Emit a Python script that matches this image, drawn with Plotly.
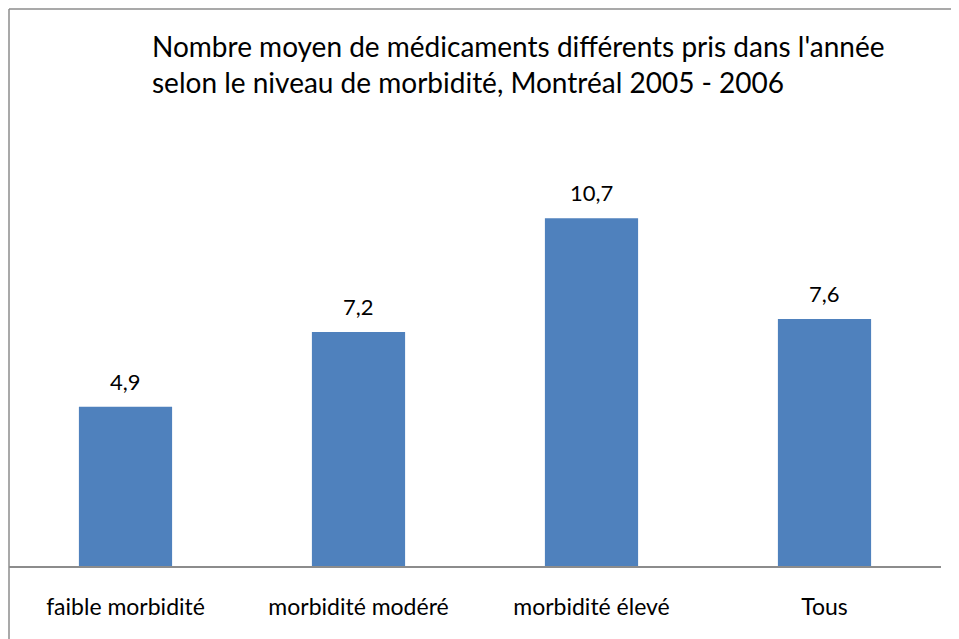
import plotly.graph_objects as go

categories = ["faible morbidité", "morbidité modéré", "morbidité élevé", "Tous"]
values = [4.9, 7.2, 10.7, 7.6]
title_lines = ["Nombre moyen de médicaments différents pris dans l'année",
               "selon le niveau de morbidité, Montréal 2005 - 2006"]

OFF = 8  # browser default body margin
W, H = 959, 639
# plot area in page pixels: x 9..941, y 176..566
L = 9 - OFF
R = W - (941 - OFF)
T = 176 - OFF
B = H - (566 - OFF)
pw, ph = W - L - R, H - T - B

def px_x(x):
    return (x - OFF - L) / pw

def px_y(y):
    return (H - B - (y - OFF)) / ph

FONT = "Lato"

fig = go.Figure(go.Bar(x=categories, y=values, marker_color="#4F81BD",
                       marker_line_width=0, hoverinfo="skip"))

for c, v in zip(categories, values):
    fig.add_annotation(x=c, y=v, text=f"{v:.1f}".replace(".", ","),
                       showarrow=False, yanchor="bottom", yshift=10,
                       font=dict(family=FONT, size=22, color="#000"))

fig.add_annotation(xref="paper", yref="paper", x=px_x(150), y=px_y(27),
                   xanchor="left", yanchor="top", align="left",
                   text="<br>".join(title_lines), showarrow=False,
                   font=dict(family=FONT, size=28, color="#000"))

line = dict(color="#8c8c8c", width=1.5)
fig.add_shape(type="line", xref="paper", yref="paper",
              x0=px_x(9), x1=px_x(9), y0=px_y(9), y1=px_y(680), line=line)
fig.add_shape(type="line", xref="paper", yref="paper",
              x0=px_x(9), x1=px_x(990), y0=px_y(9), y1=px_y(9), line=line)

fig.update_layout(
    width=W, height=H, margin=dict(l=L, r=R, t=T, b=B, autoexpand=False),
    paper_bgcolor="white", plot_bgcolor="white", bargap=0.6,
    showlegend=False,
    xaxis=dict(showline=True, linecolor="#8c8c8c", linewidth=1.5,
               ticks="", ticklabelstandoff=20,
               tickfont=dict(family=FONT, size=23, color="#000")),
    yaxis=dict(range=[0, 12], visible=False, showgrid=False),
)

fig.write_html("out.html")
